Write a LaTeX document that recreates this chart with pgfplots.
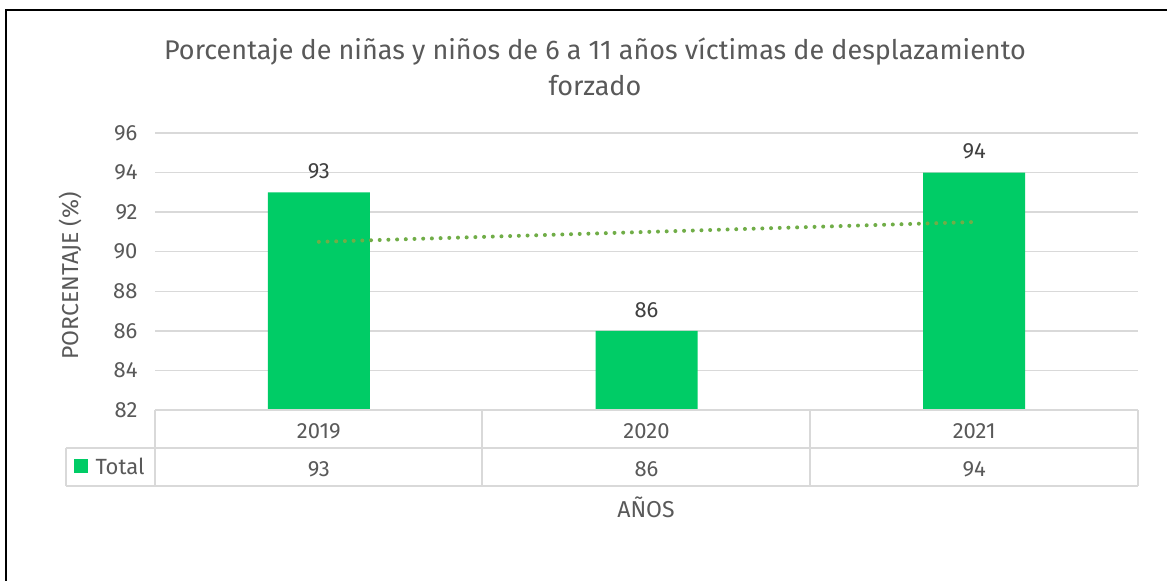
\documentclass[border=0pt]{standalone}
\usepackage{fontspec}
\setmainfont{Fira Sans}
\usepackage{pgfplots}
\pgfplotsset{compat=1.18}
\definecolor{barg}{HTML}{00CC66}
\definecolor{trendg}{HTML}{70AD47}
\definecolor{txt}{HTML}{595959}
\definecolor{lbl}{HTML}{404040}
\definecolor{gridc}{HTML}{D9D9D9}
\begin{document}
\begin{tikzpicture}[x=1pt,y=1pt]
\path[use as bounding box, fill=white] (0,0) rectangle (1171,-581);
% frame (top and left only)
\draw[black, line width=2pt] (5,-10) -- (1167,-10);
\draw[black, line width=2pt] (6,-10) -- (6,-581);
% title
\node[txt, align=center, font=\fontsize{27}{36}\selectfont] at (595,-67)
  {Porcentaje de niñas y niños de 6 a 11 años víctimas de desplazamiento\\forzado};
\begin{axis}[
  at={(155pt,-410pt)}, anchor=south west,
  scale only axis, width=983pt, height=277pt,
  ybar, bar width=102pt,
  xmin=0.5, xmax=3.5, ymin=82, ymax=96,
  ytick={82,84,...,96},
  xtick={1,2,3}, xticklabels={2019,2020,2021},
  extra x ticks={1,2,3}, extra x tick labels={93,86,94},
  extra x tick style={grid=none, major tick length=0pt,
    xticklabel style={yshift=-38pt}},
  major tick length=0pt,
  axis line style={draw=none},
  ymajorgrids, grid style={gridc, line width=1.5pt},
  tick label style={txt, font=\fontsize{22}{26}\selectfont},
  /pgf/number format/assume math mode=true,
  xticklabel style={anchor=base, yshift=-28pt},
  yticklabel style={anchor=east, xshift=-14pt},
  nodes near coords,
  every node near coord/.append style={lbl, font=\fontsize{22}{26}\selectfont, yshift=10pt},
  clip=false,
]
\addplot[fill=barg, draw=none] coordinates {(1,93) (2,86) (3,94)};
\addplot[sharp plot, trendg, line width=4pt, line cap=round, dash pattern=on 0pt off 8.7pt,
  nodes near coords={}, forget plot] coordinates {(1,90.5) (3,91.5)};
\end{axis}
% data table
\begin{scope}[gridc, line width=1.5pt]
\draw (155,-410) -- (1138,-410);
\draw (66,-448) -- (1138,-448);
\draw (66,-486) -- (1138,-486);
\foreach \xx in {155,482,810,1138} \draw (\xx,-410) -- (\xx,-486);
\draw (66,-448) -- (66,-486);
\end{scope}
\fill[barg] (74,-459) rectangle (88,-473);
\node[txt, anchor=west, font=\fontsize{22}{26}\selectfont] at (92,-466) {Total};
% axis titles
\node[txt, rotate=90, font=\fontsize{23}{26}\selectfont] at (70,-276) {PORCENTAJE (\%)};
\node[txt, font=\fontsize{23}{26}\selectfont] at (646,-507) {AÑOS};
\end{tikzpicture}
\end{document}
